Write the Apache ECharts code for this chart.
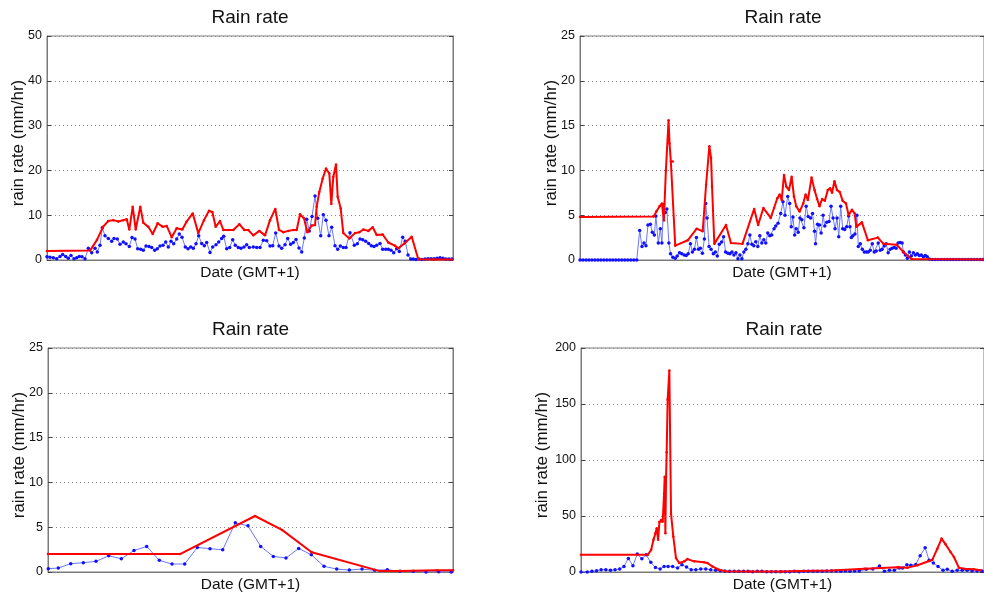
<!DOCTYPE html>
<html>
<head>
<meta charset="utf-8">
<script src="https://cdn.jsdelivr.net/npm/echarts@6/dist/echarts.min.js"></script>
<style>
  html, body { margin: 0; padding: 0; background: #fff; }
  #chart { width: 984px; height: 599px; }
</style>
</head>
<body>
<div id="chart"></div>
<script>
// Time is in minutes from the start of each event window.
const titleText = 'Rain rate';
const xName = 'Date (GMT+1)';
const yName = 'rain rate (mm/hr)';

// ---------- Event 1 ----------
const e1GaugeT = [0,3,6.3,9.7,13,15.7,18.7,21.3,24,27,29.7,32.3,35,38,41.3,44.7,48,50.3,53,55.3,58,61.3,64.7,67,70.3,73,76.3,79,82.3,85,88,90.7,93.7,96.3,99,102,104.7,107.7,110.3,113,116,118.7,121.3,124,126.7,129.7,132.3,135,138.3,141,143.7,146.3,149,151.7,154.7,157.3,159.7,163,165.7,169,171.7,174.7,176.7,179.7,182.7,185.7,188.3,191.3,194,197,199.7,202.3,206.3,209.7,213,216.3,219.7,223,225.7,228.7,232,234.7,238,240.7,243.7,246.3,249,252,254.7,257.3,259.7,262.3,265,268,270.7,273.7,276.3,279,282,284.7,288,290.7,293.3,296.3,299,303,307.3,310.3,313,315.7,318.7,321.7,324.3,327,329.7,333,335.7,338.7,341.3,344,346.7,349.7,352.3,355.7,358.3,361,363.7,366.3,369,372,375,378,381,384,387,390,393,396,399,402,405];
const e1GaugeV = [0.7,0.6,0.5,0.3,0.8,1.2,0.8,0.4,1.0,0.3,0.5,0.8,0.7,0.3,2.6,1.6,2.6,1.8,3.3,7.2,5.4,4.8,4.2,4.8,4.7,3.5,4.0,3.6,3.0,5.0,4.7,2.5,2.4,2.2,3.1,3.0,2.8,2.2,2.5,3.1,3.3,4.0,2.9,4.2,3.6,4.7,5.8,5.1,2.9,2.5,2.9,2.6,3.6,5.4,3.7,3.2,3.9,1.7,2.9,3.4,4.0,4.8,5.3,2.5,2.8,4.5,3.3,2.8,2.6,2.9,3.4,2.8,2.9,2.8,2.8,4.4,4.3,3.1,3.2,6.0,3.1,2.6,3.4,4.8,3.5,3.9,4.6,2.7,1.8,4.9,9.1,6.5,9.7,14.3,9.3,5.4,10.1,8.9,5.4,7.3,3.2,2.4,3.1,2.8,2.8,6.1,3.3,3.6,4.7,4.5,4.2,3.7,3.2,3.0,3.3,3.7,2.4,2.4,2.4,2.2,1.6,2.5,1.9,5.1,4.2,1.1,0.2,0.2,0.1,0.2,0.1,0.2,0.3,0.3,0.3,0.4,0.5,0.4,0.2,0.2,0.2];
const e1RadarT = [0,43,50,56,61.3,66.3,71.3,76.3,79.7,82.3,85.7,88.7,93.3,96.3,101.3,105.7,110.7,115.7,119.7,124.7,129.7,135.3,139.7,145.7,151.3,157,162,165.3,168.7,173,176.3,181.3,186.3,192.3,197.3,201.3,206.3,212.3,218,223,228.3,232,236.3,241.3,246.3,249.7,253,257,260.3,264.7,268,269.7,272.3,275.7,279,282.3,284.3,286.3,289,290.7,293.7,296.3,302.3,308,312.3,316.3,321.3,325.7,329.7,335.7,341.3,348,351.3,357.3,364.7,371.3,386.3,404.7];
const e1RadarV = [2.0,2.1,4.5,7.4,8.7,8.9,8.6,8.9,9.1,6.8,11.9,6.8,11.9,8.3,7.4,5.8,8.2,7.4,7.6,5.1,7.1,6.8,8.6,10.4,6.0,8.9,11.0,10.7,7.4,8.7,6.7,6.7,6.7,8.0,6.7,6.7,5.5,6.5,5.5,8.9,11.4,6.7,6.2,6.5,6.7,6.7,10.2,9.3,6.2,7.7,7.8,11.9,15.2,18.2,20.4,19.3,12.5,18.6,21.3,14.1,11.5,6.0,4.8,6.0,6.2,6.8,6.5,7.3,5.6,5.7,3.9,3.2,2.6,3.7,5.2,0.15,0.1,0.1];

// ---------- Event 2 ----------
const e2GaugeT = [0,3,6,9,12,15,18,21,24,27,30,33,36,39,42,45,48,51,54,57,60,62.3,64.3,66.3,68.3,70.7,72.7,74.7,76.3,78.7,80.7,82.3,84,85.7,87.3,89.3,91,93.3,95.7,97.7,100,102.3,104.7,106.7,108.7,111,113,115,117,119,121,123,125,126.3,127.7,129.7,131.7,134,136,138,140,142.3,144.3,146.3,148.7,150.7,152.7,154.7,156.7,158.7,160.7,162.7,164.7,166.7,168.7,170.7,172.7,174.7,176.7,178.7,180.7,182.7,184.7,186.7,188.7,190.7,192.7,195,196.7,199,201.7,204,206,208.7,210.7,212.3,214,215.7,217.3,219.3,221,223,225,227.3,229.3,231.7,233.7,235.7,236.7,238.7,240.7,242.3,244.3,246,248,250.3,252.3,254.3,256.3,258.3,260,262,264,266,268,270,271.3,272.7,274.3,276.3,278.3,279.7,281.7,283.7,285.7,287.7,289.7,291.7,293.7,295.7,297.7,299.7,301.7,303.7,305.7,307.7,309.7,311.7,313.7,315.7,317.7,319.7,321.7,323.7,325,327,329,331,333,335,337,339,341,343,345,347,349,351,354,357,360,363,366,369,372,375,378,381,384,387,390,393,396,399,402,405];
const e2GaugeV = [0,0,0,0,0,0,0,0,0,0,0,0,0,0,0,0,0,0,0,0,3.3,1.5,1.9,1.6,3.9,4.0,3.1,2.8,4.9,1.9,3.5,1.9,6.2,5.3,5.7,1.9,0.7,0.3,0.2,0.45,0.8,0.7,0.55,0.5,0.7,1.8,0.9,1.2,2.5,1.2,1.3,0.75,2.35,6.3,4.7,1.5,1.2,0.7,0.9,0.45,1.75,2.0,2.6,0.9,0.75,0.7,0.9,0.55,0.8,0.15,0.55,0.15,0.9,1.2,1.8,2.8,1.75,1.6,2.05,1.5,2.7,1.9,2.25,1.9,3.0,2.7,2.8,3.5,3.8,4.1,5.2,6.5,5.0,7.1,6.3,3.7,4.8,2.8,3.5,3.1,4.7,4.5,3.6,6.0,4.85,4.7,5.2,3.2,1.8,4.0,3.9,3.0,5.0,3.8,4.2,4.3,6.0,4.7,3.5,4.7,2.6,6.0,3.5,3.4,3.7,4.9,3.7,2.5,2.7,2.9,5.0,1.5,1.8,1.2,0.9,0.9,0.9,1.1,1.8,0.9,1.0,1.9,1.1,1.2,1.55,1.8,0.8,1.2,1.3,1.4,1.3,1.9,1.95,1.9,0.9,0.55,0.2,0.9,0.45,0.8,0.55,0.7,0.5,0.55,0.35,0.5,0.35,0.1,0.05,0.05,0.05,0.05,0.05,0.05,0.05,0.05,0.05,0.05,0.05,0.05,0.05,0.05,0.05,0.05,0.05,0.05];
const e2RadarT = [0,74,76.7,80,82.3,84.3,86.3,89,90,91.3,93.3,95.7,108.3,117.3,123.3,126.7,130,131.7,132.7,135,146.7,151.7,163.3,175,179,184.3,191.7,195,198.3,200.7,202.7,205,207.3,210,212.7,215,217.3,220.7,224.3,226.7,229,232.7,235.7,238.3,240.7,243.3,246,249,251.3,253.3,255.7,258.3,261,264,267.3,270,273.3,276,277.7,283.3,289.3,299.3,305,318.3,325,333.3,406];
const e2RadarV = [4.8,4.85,5.4,6.0,6.3,4.4,10.0,15.6,13.0,11.0,11.0,1.6,2.2,3.5,3.2,8.4,12.7,11.4,8.2,1.8,3.9,1.9,1.8,5.7,3.9,5.8,4.7,5.8,6.9,7.3,6.7,9.5,8.2,7.8,9.3,7.1,6.0,5.4,6.3,7.3,6.7,9.2,7.8,6.8,6.0,6.8,6.6,7.8,8.0,7.5,8.8,7.8,7.6,6.6,6.3,5.0,5.6,5.2,3.7,4.2,2.2,2.5,1.8,1.7,0.9,0.1,0.05];

// ---------- Event 3 ----------
const e3GaugeT = [0.3,10.3,22.7,35.3,48,60.7,73.3,86,98.7,111.3,124,136.7,149.3,162,174.7,187.3,200,212.7,225.3,238,250.7,263.3,276,288.7,301.3,314,326.7,339.3,352,365.3,378,390.7,403.3];
const e3GaugeV = [0.37,0.44,0.93,1.04,1.19,1.81,1.48,2.4,2.85,1.3,0.89,0.89,2.74,2.6,2.48,5.5,5.15,2.85,1.74,1.56,2.63,1.93,0.63,0.33,0.22,0.33,0.19,0.26,0.07,0.07,0,0.04,0];
const e3RadarT = [0,132,207,234,263.7,332,352,388.7,405];
const e3RadarV = [2.0,2.0,6.25,4.7,2.2,0.1,0.1,0.2,0.2];

// ---------- Event 4 ----------
const e4GaugeT = [0,6.3,11,15.7,20.3,25,29.7,34.3,39,43.3,47.7,52.3,56.7,61.3,65.7,70.3,75,79.7,83.7,87.7,92.3,97.3,101.7,106.3,111,115.7,120.7,125.7,130.7,135.7,140.3,145,149.7,154.3,159,163.7,168.3,173,177.7,182.3,187,191.7,196.3,201,205.7,210.3,215,219.7,224.3,229,233.7,238.3,243,247.7,252.3,257,261.7,266.3,271,275.7,280.3,287.3,294,300.7,305.7,310.7,315.7,320.7,324,328.3,332.3,337.3,341.7,346.7,350.7,355,359.7,364.7,369,374,379,384,389,394,399,404];
const e4GaugeV = [0,0.1,0.6,1.2,2,2,1.5,2,2.7,5,12.1,5.6,16,11.8,15.4,8.6,4.1,2.7,5,5,5,3.6,6.5,4.4,2,2,2.7,2.7,2,1.5,1.2,0.9,0.6,0.6,0.6,0.6,0.6,0.3,0.6,0.6,0.3,0.3,0.3,0.3,0.3,0.3,0.6,0.3,0.6,0.6,0.6,0.6,0.6,0.9,0.9,0.9,0.6,0.9,0.6,0.9,0.9,2.4,2.7,5.4,0.6,1.5,1.5,3.6,3.6,6.5,6.0,6.8,14.5,21.7,10.4,8.0,5.0,1.5,2.4,0.6,1.5,1.5,1.5,1.0,1.0,1.0];
const e4RadarT = [0,67.3,70.7,73,75,76.3,77.7,79,80.7,82.3,83.7,84.3,85,85.7,86.3,87.3,89,90.7,93,95.7,99,104,107.3,114,124,127.3,132.3,139,145.7,170,202.3,219,252.3,285.7,319,329,339,350.7,354,359,363.3,367.3,372.3,375.7,380.7,385.7,395.7,402.3];
const e4RadarV = [15.4,15.4,19.8,28.7,34.6,39,28.7,44.9,46.4,45,70,85,34.6,85,107,154,180,52,31.6,12.4,8,9.5,11.5,9.5,8.6,8,5,2,0.6,0.4,0.5,0.8,1.3,2.8,4.3,3.9,6,9.8,11,20.8,29.8,24.7,17.9,13.4,3.9,3.0,2.4,1.5];

// Axis scales per panel
const yMax = [50, 25, 25, 200];
const yStep = [10, 5, 5, 50];
const tSpan = [406, 406, 405, 406];

const gaugeT = [e1GaugeT, e2GaugeT, e3GaugeT, e4GaugeT];
const gaugeV = [e1GaugeV, e2GaugeV, e3GaugeV, e4GaugeV];
const radarT = [e1RadarT, e2RadarT, e3RadarT, e4RadarT];
const radarV = [e1RadarV, e2RadarV, e3RadarV, e4RadarV];

const zip = (t, v) => t.map((x, i) => [x, v[i]]);

const frame = '#7a7a7a';
const font = 'Liberation Sans, Arial, Helvetica, sans-serif';

const boxes = [
  { left: 47, top: 36, width: 406, height: 224 },
  { left: 580, top: 36, width: 406, height: 224 },
  { left: 48, top: 348, width: 405, height: 224 },
  { left: 581, top: 348, width: 406, height: 224 }
];
// Distance of the y-axis title from its axis (wider tick labels push it out)
const yNameGap = [20, 20, 20, 30];

const option = {
  backgroundColor: '#fff',
  animation: false,
  title: boxes.map(b => ({
    text: titleText,
    left: b.left + b.width / 2,
    top: b.top - 28,
    textAlign: 'center',
    padding: 0,
    textStyle: { fontFamily: font, fontSize: 19, fontWeight: 'normal', color: '#111' }
  })),
  grid: boxes.map(b => Object.assign({ show: true, borderColor: frame, borderWidth: 1, backgroundColor: '#fff' }, b)),
  xAxis: boxes.map((b, i) => ({
    type: 'value', gridIndex: i, min: 0, max: tSpan[i],
    axisLabel: { show: false }, axisTick: { show: false }, splitLine: { show: false },
    axisLine: { show: true, lineStyle: { color: frame } },
    name: xName, nameLocation: 'middle', nameGap: 5,
    nameTextStyle: { fontFamily: font, fontSize: 15.5, color: '#111', verticalAlign: 'top' }
  })),
  yAxis: [].concat(
    boxes.map((b, i) => ({
      type: 'value', gridIndex: i, position: 'left', min: 0, max: yMax[i], interval: yStep[i],
      axisLine: { show: true, lineStyle: { color: frame } },
      axisTick: { show: true, inside: true, length: 4, lineStyle: { color: '#444' } },
      axisLabel: { fontFamily: font, fontSize: 12.5, color: '#111', margin: 5 },
      splitLine: { show: true, lineStyle: { color: '#8a8a8a', width: 1, type: [1, 3] } },
      name: yName, nameLocation: 'middle', nameGap: yNameGap[i], nameMoveOverlap: false,
      nameTextStyle: { fontFamily: font, fontSize: 17, color: '#111', padding: [0, 0, 0, 10] }
    })),
    boxes.map((b, i) => ({
      type: 'value', gridIndex: i, position: 'right', min: 0, max: yMax[i], interval: yStep[i],
      axisLine: { show: true, lineStyle: { color: frame } },
      axisTick: { show: true, inside: true, length: 4, lineStyle: { color: '#444' } },
      axisLabel: { show: false }, splitLine: { show: false }
    }))
  ),
  series: [].concat(
    boxes.map((b, i) => ({
      type: 'line', xAxisIndex: i, yAxisIndex: i,
      data: zip(gaugeT[i], gaugeV[i]),
      symbol: 'circle', symbolSize: 3.5, showSymbol: true,
      itemStyle: { color: '#1010ff' },
      lineStyle: { color: '#6a78ff', width: 1 },
      z: 2
    })),
    boxes.map((b, i) => ({
      type: 'line', xAxisIndex: i, yAxisIndex: i,
      data: zip(radarT[i], radarV[i]),
      symbol: 'circle', symbolSize: 2.5, showSymbol: true,
      itemStyle: { color: '#ff0000' },
      lineStyle: { color: '#ff0000', width: 2 },
      z: 3
    }))
  )
};

const chart = echarts.init(document.getElementById('chart'), null, { renderer: 'canvas' });
chart.setOption(option);
</script>
</body>
</html>
